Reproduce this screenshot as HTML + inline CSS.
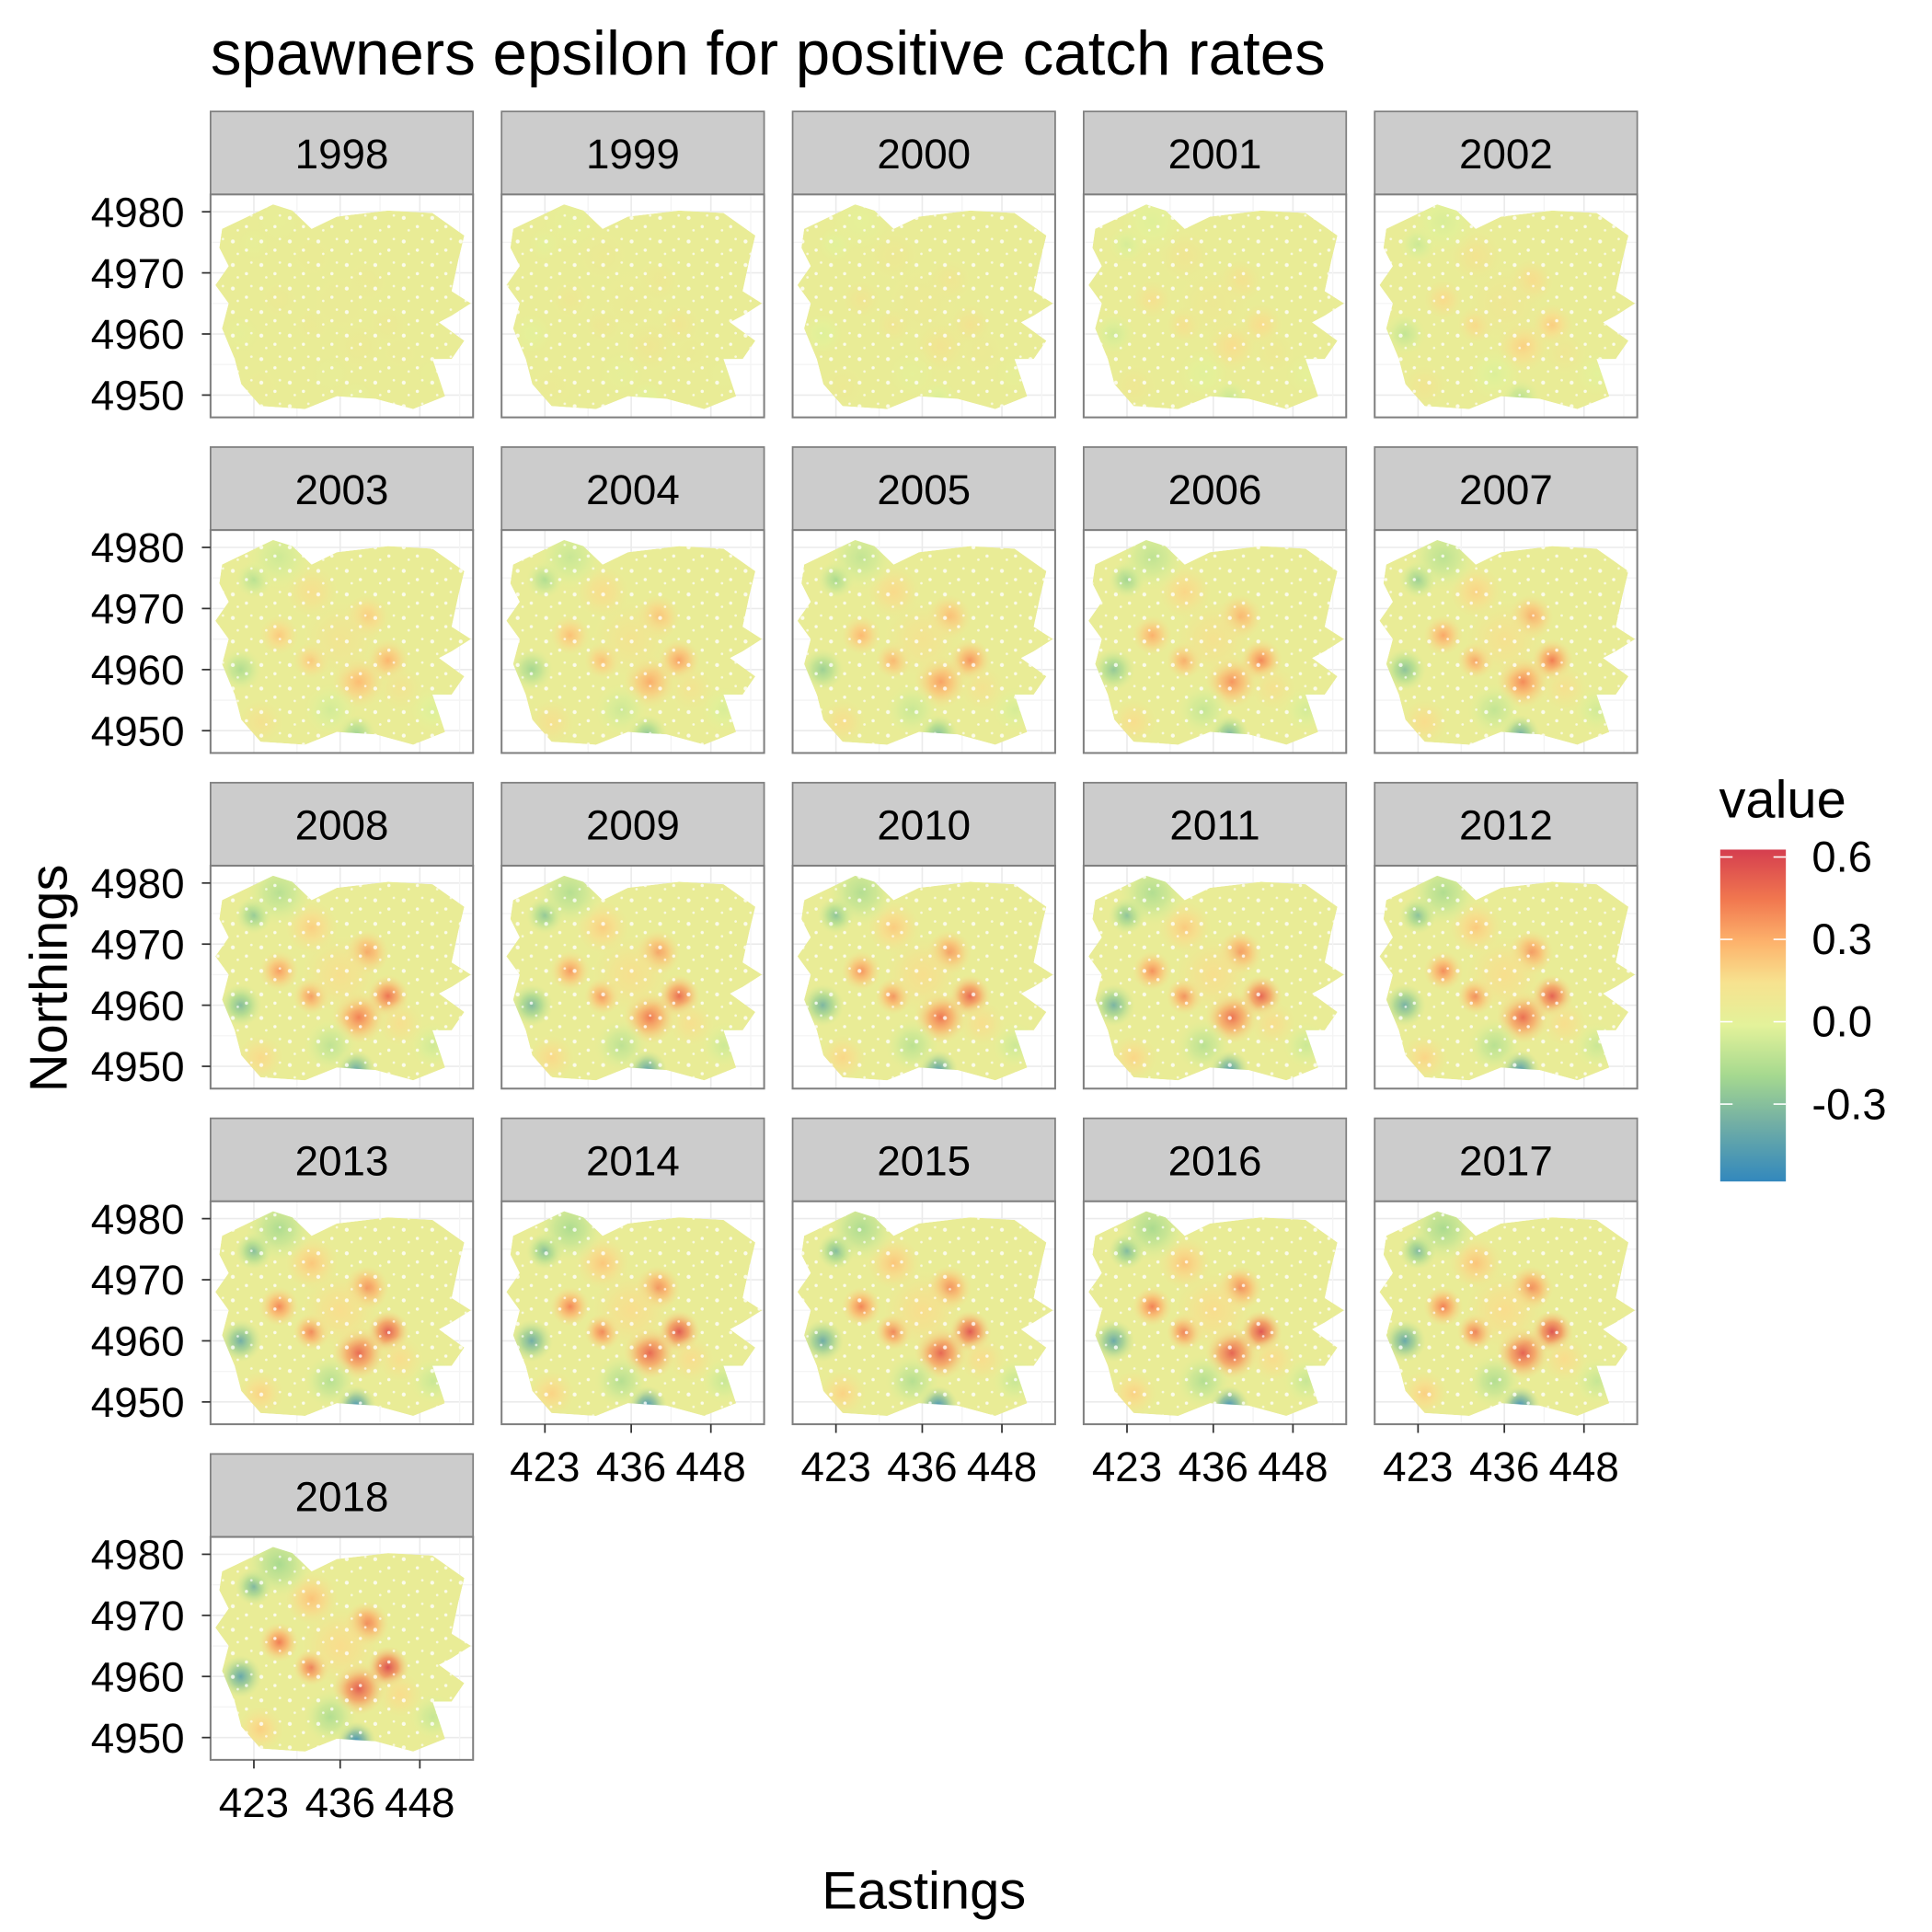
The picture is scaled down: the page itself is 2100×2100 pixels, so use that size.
<!DOCTYPE html>
<html><head><meta charset="utf-8"><style>html,body{margin:0;padding:0;background:#fff}svg{display:block}</style></head>
<body>
<svg id="chart" width="2100" height="2100" viewBox="0 0 1560 1560" xmlns="http://www.w3.org/2000/svg" font-family="Liberation Sans, Arial, sans-serif">
<defs>
<linearGradient id="cbar" x1="0" y1="1" x2="0" y2="0">
<stop offset="0" stop-color="#3288bd"/>
<stop offset="0.18" stop-color="#74b0a4"/>
<stop offset="0.32" stop-color="#a6d98f"/>
<stop offset="0.47" stop-color="#e3f29a"/>
<stop offset="0.6" stop-color="#f7e28f"/>
<stop offset="0.72" stop-color="#fdb36c"/>
<stop offset="0.85" stop-color="#f1774f"/>
<stop offset="1" stop-color="#d53e4f"/>
</linearGradient>
<pattern id="holes" width="23" height="19" patternUnits="userSpaceOnUse">
<circle cx="4" cy="5" r="1.6" fill="#fff" opacity="0.8"/>
<circle cx="15" cy="12" r="1.3" fill="#fff" opacity="0.8"/>
<circle cx="19" cy="3" r="1" fill="#fff" opacity="0.7"/>
<circle cx="8" cy="15" r="1" fill="#fff" opacity="0.7"/>
</pattern>
</defs>
<text x="170" y="60" font-size="50">spawners epsilon for positive catch rates</text>
<text transform="translate(54,790) rotate(-90)" text-anchor="middle" font-size="43">Northings</text>
<text x="746" y="1541" text-anchor="middle" font-size="43">Eastings</text>
<g>
<text x="1388" y="660" font-size="43">value</text>
<rect x="1389" y="686" width="53" height="268" fill="url(#cbar)"/>
<g id="legendTicks"></g>
</g>
<g id="panels"></g>
</svg>
<script>
const years = [1998,1999,2000,2001,2002,2003,2004,2005,2006,2007,2008,2009,2010,2011,2012,2013,2014,2015,2016,2017,2018];
const yearAmp = [0.05,0.1,0.15,0.25,0.35,0.5,0.58,0.64,0.7,0.75,0.8,0.83,0.86,0.88,0.9,0.93,0.94,0.95,0.97,0.98,1.0];
const hotE = [443.2,440,438.8,431.7,426.8,431.7,421,438.4,423,426.8,434.5,450,424,436,445];
const hotN = [4961.5,4968.6,4958,4961.5,4965.6,4972.7,4960,4949.4,4974.7,4978.4,4953.4,4953.4,4951.4,4965,4957];
const hotV = [0.6,0.45,0.55,0.48,0.45,0.25,-0.45,-0.55,-0.38,-0.25,-0.22,-0.15,0.2,0.15,0.15];
const hotR = [3.2,3.4,4,2.8,3,4,3.2,3,2.8,5,4,3.5,3.5,6,3.5];
const outlineE = [418.2,425.9,428.8,431.7,435.5,443.2,449.9,454.7,453.8,452.8,455.7,452.8,450.9,454.7,452.8,449.9,451.8,447,441.3,435.5,430.7,424,421.1,420.1,418.2,419.2,417.2,419.2,417.8];
const outlineN = [4977.2,4981.2,4980.2,4977.2,4979.2,4980.2,4979.8,4976.1,4972.1,4967,4965,4963,4961.9,4958.9,4955.9,4955.9,4949.8,4947.7,4949.4,4949.8,4947.7,4948.2,4951.8,4955.9,4960.9,4965,4968,4971.1,4974.1];
const yTicks = [4950,4960,4970,4980];
const xTicks = [423,436,448];
const legendVals = [0.6,0.3,0.0,-0.3];
const legendLabels = ["0.6","0.3","0.0","-0.3"];

const NS="http://www.w3.org/2000/svg";
const svg=document.getElementById('chart');
const defs=svg.querySelector('defs');
function mk(t,a,p){const e=document.createElementNS(NS,t);for(const k in a)e.setAttribute(k,a[k]);(p||svg).appendChild(e);return e;}
const stops=[[-0.56,[50,136,189]],[-0.4,[116,176,164]],[-0.25,[166,217,143]],[-0.05,[227,242,154]],[0.0,[233,236,150]],[0.15,[250,220,140]],[0.3,[253,179,108]],[0.45,[241,119,79]],[0.64,[213,62,79]]];
function col(v){if(v<=stops[0][0])return 'rgb('+stops[0][1]+')';for(let i=1;i<stops.length;i++){if(v<=stops[i][0]){const a=stops[i-1],b=stops[i],t=(v-a[0])/(b[0]-a[0]);return 'rgb('+a[1].map((c,j)=>Math.round(c+(b[1][j]-c)*t)).join(',')+')';}}return 'rgb('+stops[stops.length-1][1]+')';}
const lg=document.getElementById('legendTicks');
const legY=v=>825-(v/0.3)*66.5;
legendVals.forEach((v,i)=>{
 const y=legY(v);
 const t1=mk('line',{x1:1389,x2:1399,y1:y,y2:y,stroke:'#fff','stroke-width':1.2},lg);
 
 
 mk('line',{x1:1432,x2:1442,y1:y,y2:y,stroke:'#fff','stroke-width':1.2},lg);
 const tx=mk('text',{x:1463,y:y+12,'font-size':35},lg);tx.textContent=legendLabels[i];
 
 
});
const pg=document.getElementById('panels');
years.forEach((yr,idx)=>{
 const c=idx%5,r=Math.floor(idx/5);
 const L=170+235*c, S=90+271*r, T=S+67, W=212, H=180;
 const px=E=>L+35+(E-423)*(134/25);
 const py=N=>T+14+(4980-N)*(148/30);
 const g=mk('g',{},pg);
 
 
 const st=mk('rect',{x:L,y:S,width:W,height:67,fill:'#cccccc',stroke:'#7f7f7f','stroke-width':1.3},g);
 
 
 const stt=mk('text',{x:L+W/2,y:S+46,'text-anchor':'middle','font-size':34},g);stt.textContent=yr;
 
 
 mk('rect',{x:L,y:T,width:W,height:H,fill:'#fff'},g);
 [4955,4965,4975].forEach(v=>mk('line',{x1:L,x2:L+W,y1:py(v),y2:py(v),stroke:'#f4f4f4','stroke-width':1},g));
 yTicks.forEach(v=>mk('line',{x1:L,x2:L+W,y1:py(v),y2:py(v),stroke:'#ebebeb','stroke-width':1.2},g));
 [429.5,442,454].forEach(v=>mk('line',{y1:T,y2:T+H,x1:px(v),x2:px(v),stroke:'#f4f4f4','stroke-width':1},g));
 xTicks.forEach(v=>mk('line',{y1:T,y2:T+H,x1:px(v),x2:px(v),stroke:'#ebebeb','stroke-width':1.2},g));
 const cid='clip'+yr;
 const cp=mk('clipPath',{id:cid},defs);
 const pts=outlineE.map((e,i)=>px(e).toFixed(1)+','+py(outlineN[i]).toFixed(1)).join(' ');
 mk('polygon',{points:pts},cp);
 const mg=mk('g',{'clip-path':'url(#'+cid+')'},g);
 const base=mk('polygon',{points:pts,fill:col(0.0)},mg);
 
 
 hotE.forEach((e,i)=>{
   const v=hotV[i]*yearAmp[idx];
   const gid='hg'+yr+'_'+i;
   const rg=mk('radialGradient',{id:gid},defs);
   mk('stop',{offset:0,'stop-color':col(v),'stop-opacity':0.95},rg);
   mk('stop',{offset:0.45,'stop-color':col(v*0.7),'stop-opacity':0.75},rg);
   mk('stop',{offset:1,'stop-color':col(v*0.3),'stop-opacity':0},rg);
   const rr=hotR[i]*134/25;
   const ci=mk('circle',{cx:px(e),cy:py(hotN[i]),r:rr,fill:'url(#'+gid+')'},mg);
   
   
 });
 mk('polygon',{points:pts,fill:'url(#holes)'},mg);
 mk('rect',{x:L,y:T,width:W,height:H,fill:'none',stroke:'#7f7f7f','stroke-width':1.5},g);
 if(c===0){
  yTicks.forEach(v=>{
   mk('line',{x1:L-7,x2:L,y1:py(v),y2:py(v),stroke:'#333','stroke-width':1.3},g);
   const t=mk('text',{x:L-21,y:py(v)+12,'text-anchor':'end','font-size':34},g);t.textContent=v;
   
   
  });
 }
 if(r===4||(r===3&&c>0)){
  xTicks.forEach(v=>{
   mk('line',{x1:px(v),x2:px(v),y1:T+H,y2:T+H+7,stroke:'#333','stroke-width':1.3},g);
   const t=mk('text',{x:px(v),y:T+H+46,'text-anchor':'middle','font-size':34},g);t.textContent=v;
   
   
  });
 }
});
</script>
</body></html>
